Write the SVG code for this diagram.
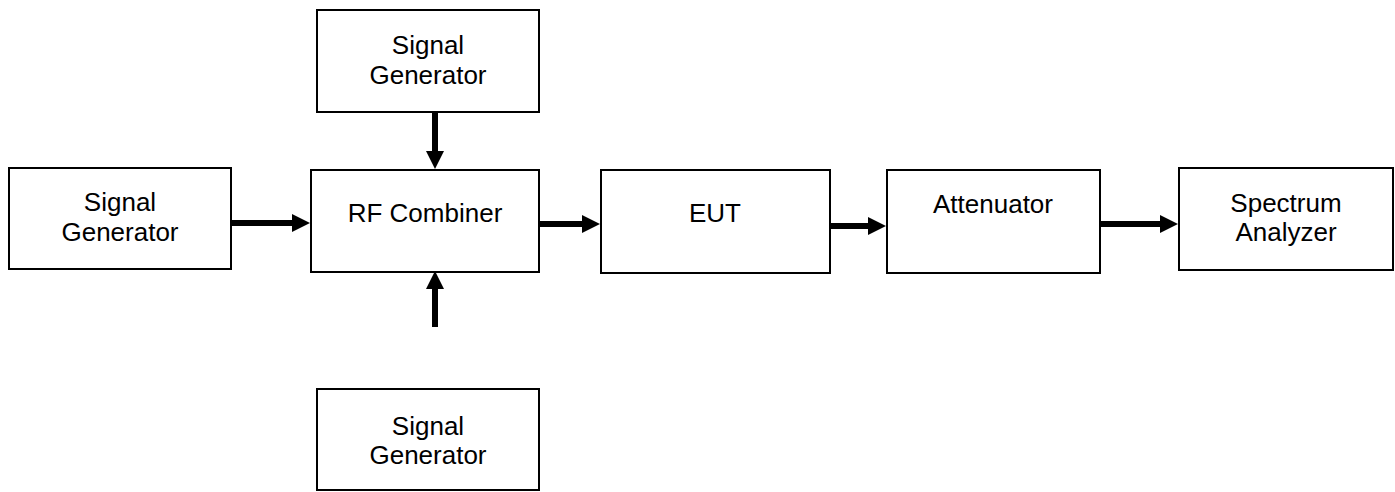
<svg xmlns="http://www.w3.org/2000/svg" width="1395" height="492" viewBox="0 0 1395 492">
<style>
.box{fill:#fff;stroke:#000;stroke-width:2}
.lbl{font-family:"Liberation Sans",Arial,sans-serif;font-size:26px;fill:#000;text-anchor:middle}
.conn{stroke:#000;stroke-width:6;fill:none;marker-end:url(#ah)}
</style>
<defs>
<marker id="ah" markerUnits="userSpaceOnUse" markerWidth="18" markerHeight="18" refX="1" refY="9" orient="auto">
<path d="M0,0 L18,9 L0,18 z" fill="#000"/>
</marker>
</defs>
<rect width="1395" height="492" fill="#fff"/>
<g id="sg-top"><rect class="box" x="317" y="10" width="222" height="102"/>
<text class="lbl" x="428" y="54">Signal</text><text class="lbl" x="428" y="84">Generator</text></g>
<g id="sg-left"><rect class="box" x="9" y="168" width="222" height="101"/>
<text class="lbl" x="120" y="211">Signal</text><text class="lbl" x="120" y="241">Generator</text></g>
<g id="rf-combiner"><rect class="box" x="311" y="170" width="228" height="102"/>
<text class="lbl" x="425" y="222">RF Combiner</text></g>
<g id="eut"><rect class="box" x="601" y="170" width="229" height="103"/>
<text class="lbl" x="715" y="222">EUT</text></g>
<g id="attenuator"><rect class="box" x="887" y="170" width="213" height="103"/>
<text class="lbl" x="993" y="213">Attenuator</text></g>
<g id="spectrum-analyzer"><rect class="box" x="1179" y="168" width="214" height="102"/>
<text class="lbl" x="1286" y="212">Spectrum</text><text class="lbl" x="1286" y="241">Analyzer</text></g>
<g id="sg-bottom"><rect class="box" x="317" y="389" width="222" height="101"/>
<text class="lbl" x="428" y="435">Signal</text><text class="lbl" x="428" y="464">Generator</text></g>
<g id="connectors">
<line class="conn" x1="232" y1="223" x2="293" y2="223"/>
<line class="conn" x1="435" y1="113" x2="435" y2="152"/>
<line class="conn" x1="435" y1="327" x2="435" y2="288"/>
<line class="conn" x1="540" y1="224" x2="583" y2="224"/>
<line class="conn" x1="831" y1="226" x2="869" y2="226"/>
<line class="conn" x1="1101" y1="224" x2="1161" y2="224"/>
</g>
</svg>
